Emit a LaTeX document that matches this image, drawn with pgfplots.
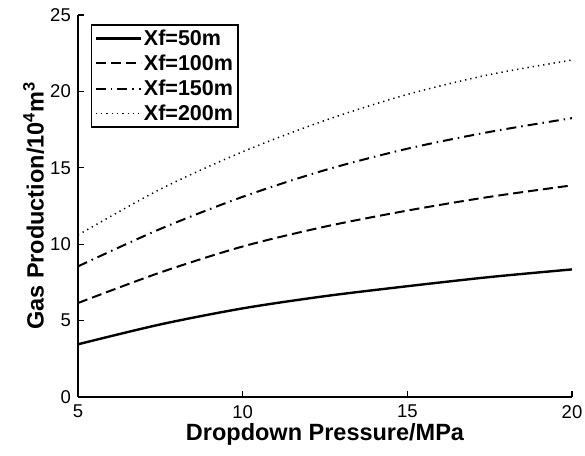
\documentclass[border=0pt]{standalone}
\usepackage{fontspec}
\setmainfont{Liberation Sans}
\usepackage{pgfplots}
\pgfplotsset{compat=1.18}

\begin{document}
\begin{tikzpicture}
\begin{axis}[
  scale only axis, width=494pt, height=382pt,
  xmin=5, xmax=20, ymin=0, ymax=25,
  xtick={5,10,15,20}, ytick={0,5,...,25},
  axis x line*=bottom, axis y line*=left,
  axis line style={line width=1.8pt, -},
  tick style={line width=1.4pt, black}, tick align=inside,
  major tick length=6pt,
  tick label style={font=\fontsize{18.5}{20}\selectfont, inner sep=0pt},
  /pgf/number format/assume math mode=true,
  xticklabel style={anchor=north, yshift=-8pt},
  yticklabel style={anchor=east, xshift=-7pt},
  xlabel={\bfseries Dropdown Pressure/MPa},
  ylabel={\bfseries Gas Production/10\textsuperscript{4}m\textsuperscript{3}},
  label style={font=\fontsize{23.5}{25}\selectfont},
  xlabel style={at={(axis description cs:0.5,-0.113)}, anchor=base, inner sep=0pt},
  ylabel style={at={(axis description cs:-0.09,0.5)}, anchor=center, rotate=0},
  legend style={at={(axis description cs:0.026,0.976)}, anchor=north west, draw=black, line width=1.4pt,
    font=\fontsize{21.5}{23}\selectfont\bfseries, row sep=4pt, inner xsep=3pt, inner ysep=3pt},
  legend cell align=left,
  legend image code/.code={\draw[#1] (0pt,0pt) -- (45pt,0pt);},
]
\addplot[black, line width=2.4pt, smooth] coordinates {(5,3.45) (7.5,4.75) (10,5.8) (12.5,6.6) (15,7.25) (17.5,7.85) (20,8.35)};
\addplot[black, line width=2pt, smooth, dash pattern=on 10pt off 5pt] coordinates {(5,6.15) (7.5,8.15) (10,9.85) (12.5,11.15) (15,12.2) (17.5,13.1) (20,13.85)};
\addplot[black, line width=2pt, smooth, dash pattern=on 10pt off 5pt on 1.5pt off 5pt] coordinates {(5,8.55) (7.5,11.0) (10,13.1) (12.5,14.85) (15,16.25) (17.5,17.35) (20,18.25)};
\addplot[black, line width=1.5pt, smooth, dash pattern=on 1.3pt off 4pt] coordinates {(5,10.6) (7.5,13.6) (10,16.05) (12.5,18.1) (15,19.8) (17.5,21.1) (20,22.05)};
\legend{Xf=50m, Xf=100m, Xf=150m, Xf=200m}
\end{axis}
\pgfresetboundingbox
\path (-78pt,-58pt) rectangle (507pt,397pt);
\end{tikzpicture}
\end{document}
